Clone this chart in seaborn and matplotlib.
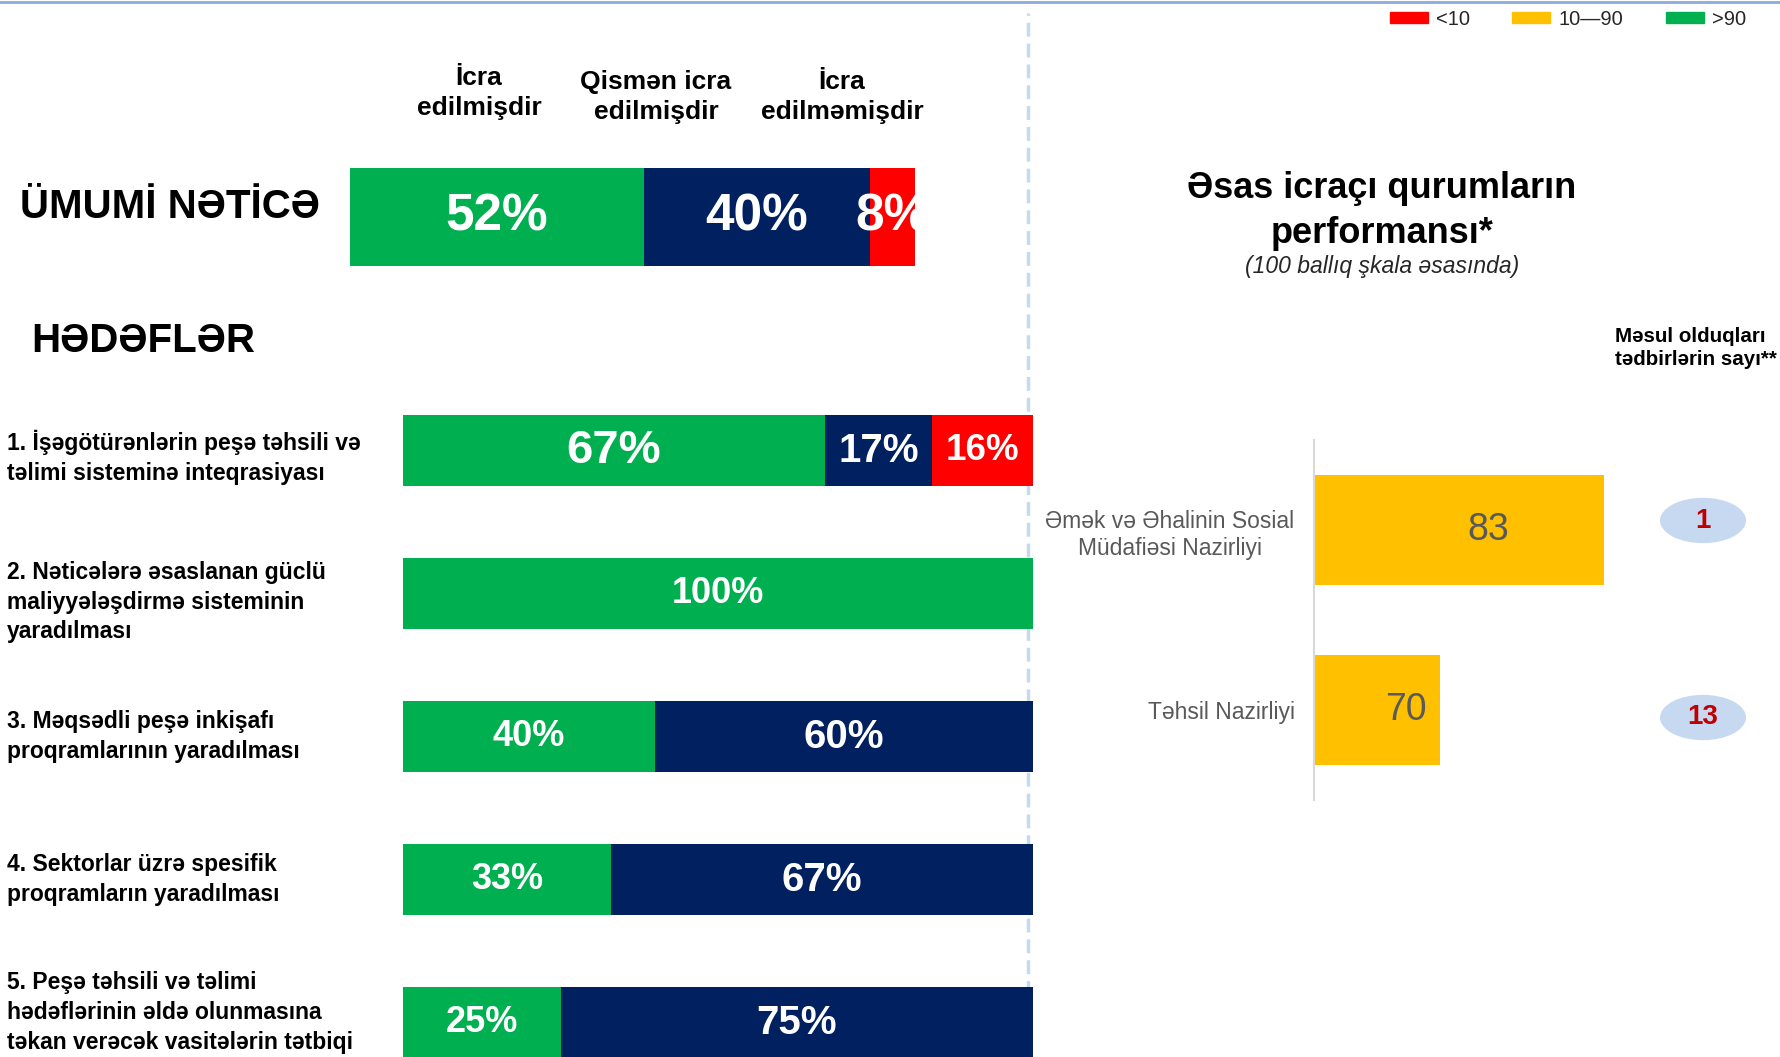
import pandas as pd
import seaborn as sns
import matplotlib.pyplot as plt
from matplotlib import transforms
from matplotlib.patches import Ellipse, Patch
from matplotlib.lines import Line2D

# data
status_labels = ["İcra\nedilmişdir", "Qismən icra\nedilmişdir", "İcra\nedilməmişdir"]
overall_title = "ÜMUMİ NƏTİCƏ"
overall_done = 52
overall_partial = 40
overall_not = 8

goals = [
    "1. İşəgötürənlərin peşə təhsili və\ntəlimi sisteminə inteqrasiyası",
    "2. Nəticələrə əsaslanan güclü\nmaliyyələşdirmə sisteminin\nyaradılması",
    "3. Məqsədli peşə inkişafı\nproqramlarının yaradılması",
    "4. Sektorlar üzrə spesifik\nproqramların yaradılması",
    "5. Peşə təhsili və təlimi\nhədəflərinin əldə olunmasına\ntəkan verəcək vasitələrin tətbiqi",
]
goal_done = [67, 100, 40, 33, 25]
goal_partial = [17, 0, 60, 67, 75]
goal_not = [16, 0, 0, 0, 0]

ministries = ["Əmək və Əhalinin Sosial\nMüdafiəsi Nazirliyi", "Təhsil Nazirliyi"]
ministry_scores = [83, 70]
ministry_tasks = [1, 13]

legend_labels = ["<10", "10—90", ">90"]

GREEN = "#00B050"
NAVY = "#002060"
RED = "#FF0000"
YELLOW = "#FFC000"
GREY = "#595959"

sns.set_theme(style="white")
plt.rcParams["font.family"] = ["Liberation Sans", "DejaVu Sans"]
plt.rcParams["text.color"] = "black"

W, H = 1780, 1057
fig = plt.figure(figsize=(W / 100, H / 100), dpi=100)


def box(x0, y0, x1, y1):
    # pixel box (top-left origin) -> figure fraction
    return [x0 / W, 1 - y1 / H, (x1 - x0) / W, (y1 - y0) / H]


def stacked(ax, cats, done, partial, notdone, width):
    df = pd.DataFrame({"cat": cats, "done": done, "partial": partial, "not": notdone})
    df["c2"] = df["done"] + df["partial"]
    df["c3"] = df["c2"] + df["not"]
    sns.barplot(data=df, x="c3", y="cat", color=RED, orient="h", width=width, ax=ax, saturation=1)
    sns.barplot(data=df, x="c2", y="cat", color=NAVY, orient="h", width=width, ax=ax, saturation=1)
    sns.barplot(data=df, x="done", y="cat", color=GREEN, orient="h", width=width, ax=ax, saturation=1)
    for p in ax.patches:
        p.set_linewidth(0)
    ax.set_xlim(0, 100)
    ax.set_xlabel("")
    ax.set_ylabel("")
    ax.set_xticks([])
    ax.set_yticks([])
    ax.set_facecolor("none")
    sns.despine(ax=ax, left=True, bottom=True)
    return df


def seg_labels(ax, df, sizes, big=None):
    for i, row in df.iterrows():
        starts = [0, row["done"], row["c2"]]
        vals = [row["done"], row["partial"], row["not"]]
        for j, (s, v) in enumerate(zip(starts, vals)):
            if v <= 0:
                continue
            fs = sizes[j]
            if big is not None and (i, j) in big:
                fs = big[(i, j)]
            ax.text(s + v / 2, i, f"{v}%", color="white", fontsize=fs, fontweight="bold",
                    ha="center", va="center", clip_on=True)


# overall bar
ax_top = fig.add_axes(box(350, 168, 915, 266))
df_top = stacked(ax_top, [overall_title], [overall_done], [overall_partial], [overall_not], 1.0)
ax_top.set_ylim(0.5, -0.5)
seg_labels(ax_top, df_top, [37, 37, 37])

# goals bars
ax_g = fig.add_axes(box(403, 379, 1033, 1057))
df_g = stacked(ax_g, goals, goal_done, goal_partial, goal_not, 0.5)
ax_g.set_ylim(4.24, -0.5)
seg_labels(ax_g, df_g, [26, 29, 26.5], big={(0, 0): 34, (0, 1): 29})
tr = transforms.blended_transform_factory(fig.transFigure, ax_g.transData)
nudge = {0: 0.05, 1: 0.06, 4: -0.07}
for i, g in enumerate(goals):
    ax_g.text(7 / W, i + nudge.get(i, 0), g, transform=tr, ha="left", va="center", fontsize=16.5,
              fontweight="bold", color="black", linespacing=1.38, clip_on=False)

# headings
fig.text(20 / W, 1 - 207 / H, overall_title, fontsize=29, fontweight="bold", va="center", ha="left")
fig.text(31 / W, 1 - 341 / H, "HƏDƏFLƏR", fontsize=29, fontweight="bold", va="center", ha="left")
for cx, cy, lab in zip([479, 656, 842], [93, 97, 97], status_labels):
    fig.text(cx / W, 1 - cy / H, lab, fontsize=19, fontweight="bold", ha="center", va="center",
             linespacing=1.3)

# right panel: ministries
ax_r = fig.add_axes(box(1314, 440, 1755, 800))
sns.barplot(x=ministry_scores, y=ministries, color=YELLOW, orient="h", width=0.61, ax=ax_r, saturation=1)
for p in ax_r.patches:
    p.set_linewidth(0)
ax_r.set_xlim(60, 95)
ax_r.set_ylim(1.5, -0.5)
ax_r.set_xticks([])
ax_r.set_facecolor("none")
sns.despine(ax=ax_r, bottom=True)
ax_r.spines["left"].set_color("#D9D9D9")
ax_r.spines["left"].set_linewidth(1.5)
ax_r.tick_params(axis="y", length=0, pad=14, labelsize=16.5, labelcolor=GREY)
for t in ax_r.get_yticklabels():
    t.set_multialignment("center")
    t.set_linespacing(1.25)
for i, v in enumerate(ministry_scores):
    ax_r.text((60 + v) / 2 + 2.3, i, str(v), ha="center", va="center", fontsize=27, color=GREY)

# bubbles with the number of measures
ax_e = fig.add_axes(box(1653, 422, 1753, 816))
ax_e.set_xlim(0, 1)
ax_e.set_ylim(1.5, -0.5)
ax_e.axis("off")
for i, n in enumerate(ministry_tasks):
    ax_e.add_patch(Ellipse((0.5, i), width=0.86, height=0.23, facecolor="#C6D9F1",
                           edgecolor="none", clip_on=False))
    ax_e.text(0.5, i, str(n), ha="center", va="center", fontsize=20,
              fontweight="bold", color="#C00000", clip_on=False)

fig.text(1382 / W, 1 - 211 / H, "Əsas icraçı qurumların\nperformansı*", fontsize=26,
         fontweight="bold", ha="center", va="center", linespacing=1.4)
fig.text(1382 / W, 1 - 267 / H, "(100 ballıq şkala əsasında)", fontsize=16.5, style="italic",
         ha="center", va="center", color="#262626")
fig.text(1615 / W, 1 - 348 / H, "Məsul olduqları\ntədbirlərin sayı**", fontsize=14.8,
         fontweight="bold", ha="left", va="center", linespacing=1.3)

# legend, one entry per colour band
for x0, col, lab in zip([1390, 1512, 1666], [RED, YELLOW, GREEN], legend_labels):
    fig.legend([Patch(color=col)], [lab], loc="upper left", bbox_to_anchor=(x0 / W, 1 - 10 / H),
               frameon=False, fontsize=14.5, handlelength=1.9, handleheight=0.45,
               handletextpad=0.4, labelcolor="#262626", borderaxespad=0, borderpad=0)

# separators
fig.add_artist(Line2D([0, 1], [1 - 1.5 / H, 1 - 1.5 / H], color="#8EAADB", lw=2))
fig.add_artist(Line2D([1028 / W, 1028 / W], [0, 1 - 13 / H], color="#C6D9F1", lw=2.5,
                      linestyle=(0, (4, 2)), zorder=-1))

fig.savefig("out.png", dpi=100)
